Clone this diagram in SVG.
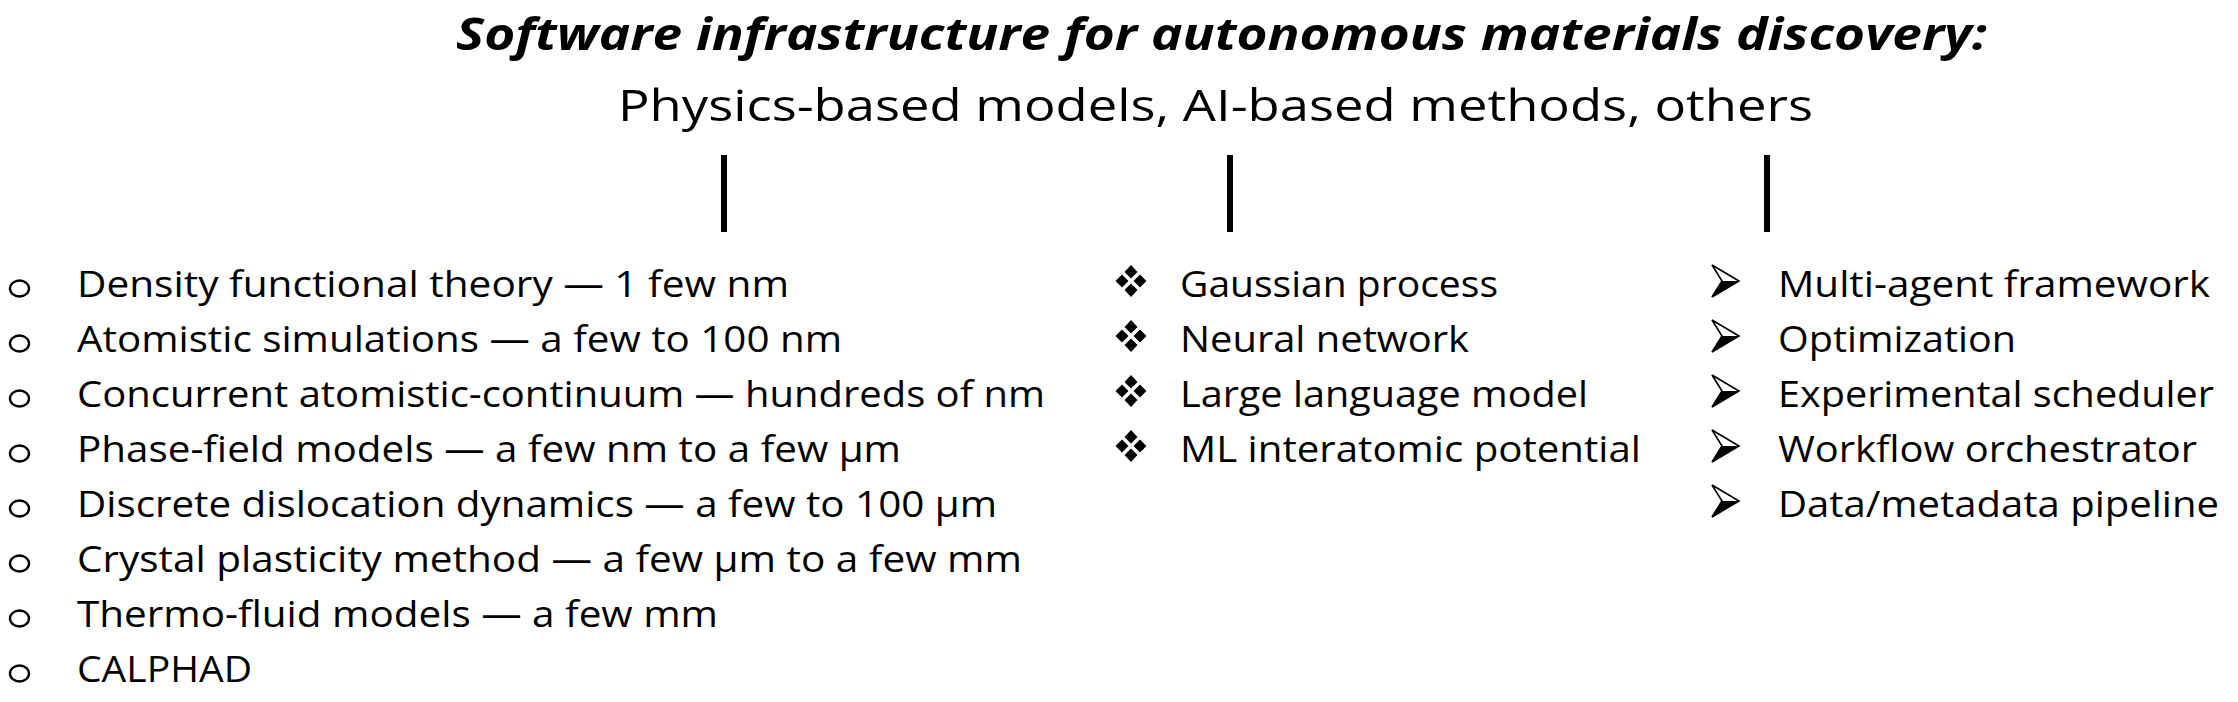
<svg xmlns="http://www.w3.org/2000/svg" width="2238" height="702" viewBox="0 0 2238 702">
<style>
.t{font-family:"Open Sans","Liberation Sans",sans-serif;fill:#000}
.title{font-size:44px;font-weight:bold;font-style:italic}
.sub{font-size:44px}
.item{font-size:37px}
.circ{fill:none;stroke:#000;stroke-width:2.4}
.dia{fill:#000}
.arr{fill:#fff;stroke:#000;stroke-width:1.6;stroke-linejoin:miter}
.arrf{fill:#000}
.conn{stroke:#000;stroke-width:6}
</style>
<defs>
<g id="bDia">
<path class="dia" d="M0,-16 L6.5,-9 L0,-2.5 L-6.5,-9 Z"/>
<path class="dia" d="M0,2.5 L6.5,9 L0,16 L-6.5,9 Z"/>
<path class="dia" d="M-9,-6.5 L-2.5,0 L-9,6.5 L-15.5,0 Z"/>
<path class="dia" d="M9,-6.5 L15.5,0 L9,6.5 L2.5,0 Z"/>
</g>
<g id="bArr">
<path class="arr" d="M0,0 L27,16 L0,32 L10,16 Z"/>
<path class="arrf" d="M10,16 L27,16 L0,32 Z"/>
</g>
</defs>
<rect width="2238" height="702" fill="#fff"/>
<g id="header">
<text class="t title" x="456" y="50" textLength="1531" lengthAdjust="spacingAndGlyphs">Software infrastructure for autonomous materials discovery:</text>
<text class="t sub" x="618" y="121" textLength="1195" lengthAdjust="spacingAndGlyphs">Physics-based models, AI-based methods, others</text>
</g>
<g id="connectors">
<line class="conn" x1="724" y1="155" x2="724" y2="232"/>
<line class="conn" x1="1230" y1="155" x2="1230" y2="232"/>
<line class="conn" x1="1767" y1="155" x2="1767" y2="232"/>
</g>
<g id="physics-models">
<ellipse class="circ" cx="19.5" cy="288.5" rx="9.5" ry="8"/>
<text class="t item" x="77" y="297" textLength="712" lengthAdjust="spacingAndGlyphs">Density functional theory — 1 few nm</text>
<ellipse class="circ" cx="19.5" cy="343.5" rx="9.5" ry="8"/>
<text class="t item" x="77" y="352" textLength="765" lengthAdjust="spacingAndGlyphs">Atomistic simulations — a few to 100 nm</text>
<ellipse class="circ" cx="19.5" cy="398.5" rx="9.5" ry="8"/>
<text class="t item" x="77" y="407" textLength="968" lengthAdjust="spacingAndGlyphs">Concurrent atomistic-continuum — hundreds of nm</text>
<ellipse class="circ" cx="19.5" cy="453.5" rx="9.5" ry="8"/>
<text class="t item" x="77" y="462" textLength="824" lengthAdjust="spacingAndGlyphs">Phase-field models — a few nm to a few µm</text>
<ellipse class="circ" cx="19.5" cy="508.5" rx="9.5" ry="8"/>
<text class="t item" x="77" y="517" textLength="920" lengthAdjust="spacingAndGlyphs">Discrete dislocation dynamics — a few to 100 µm</text>
<ellipse class="circ" cx="19.5" cy="563.5" rx="9.5" ry="8"/>
<text class="t item" x="77" y="572" textLength="945" lengthAdjust="spacingAndGlyphs">Crystal plasticity method — a few µm to a few mm</text>
<ellipse class="circ" cx="19.5" cy="618.5" rx="9.5" ry="8"/>
<text class="t item" x="77" y="627" textLength="641" lengthAdjust="spacingAndGlyphs">Thermo-fluid models — a few mm</text>
<ellipse class="circ" cx="19.5" cy="673.5" rx="9.5" ry="8"/>
<text class="t item" x="77" y="682" textLength="175" lengthAdjust="spacingAndGlyphs">CALPHAD</text>
</g>
<g id="ai-methods">
<use href="#bDia" x="1131" y="281"/>
<text class="t item" x="1180" y="297" textLength="318" lengthAdjust="spacingAndGlyphs">Gaussian process</text>
<use href="#bDia" x="1131" y="336"/>
<text class="t item" x="1180" y="352" textLength="289" lengthAdjust="spacingAndGlyphs">Neural network</text>
<use href="#bDia" x="1131" y="391"/>
<text class="t item" x="1180" y="407" textLength="408" lengthAdjust="spacingAndGlyphs">Large language model</text>
<use href="#bDia" x="1131" y="446"/>
<text class="t item" x="1180" y="462" textLength="461" lengthAdjust="spacingAndGlyphs">ML interatomic potential</text>
</g>
<g id="others">
<use href="#bArr" x="1712" y="265"/>
<text class="t item" x="1778" y="297" textLength="432" lengthAdjust="spacingAndGlyphs">Multi-agent framework</text>
<use href="#bArr" x="1712" y="320"/>
<text class="t item" x="1778" y="352" textLength="238" lengthAdjust="spacingAndGlyphs">Optimization</text>
<use href="#bArr" x="1712" y="375"/>
<text class="t item" x="1778" y="407" textLength="436" lengthAdjust="spacingAndGlyphs">Experimental scheduler</text>
<use href="#bArr" x="1712" y="430"/>
<text class="t item" x="1778" y="462" textLength="419" lengthAdjust="spacingAndGlyphs">Workflow orchestrator</text>
<use href="#bArr" x="1712" y="485"/>
<text class="t item" x="1778" y="517" textLength="441" lengthAdjust="spacingAndGlyphs">Data/metadata pipeline</text>
</g>
</svg>
